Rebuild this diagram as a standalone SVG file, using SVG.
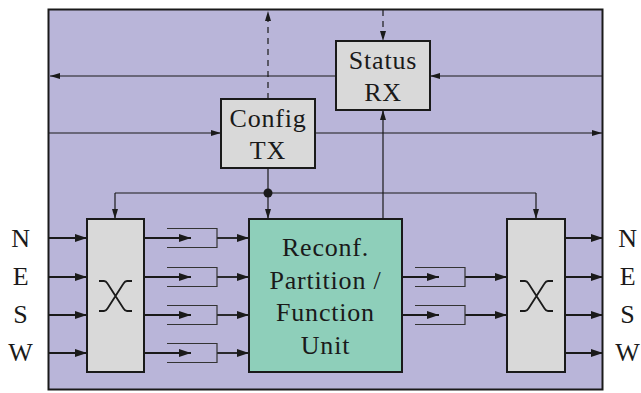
<svg xmlns="http://www.w3.org/2000/svg" width="641" height="393" viewBox="0 0 641 393">
<style>
.box{stroke:#1a1a1a;stroke-width:2}
.gray{fill:#d9d9d9}
.teal{fill:#8ecfba}
.t{font-family:"Liberation Serif","DejaVu Serif",serif;font-size:26px;letter-spacing:0.8px;fill:#1a1a1a;text-anchor:middle}
.thick{stroke:#1a1a1a;stroke-width:1.8;fill:none}
.thin{stroke:#1a1a1a;stroke-width:1.2;fill:none}
.xsym{stroke:#1a1a1a;stroke-width:1.8;fill:none;stroke-linejoin:round}
.buf{stroke:#333;stroke-width:1.2;fill:none}
.dash{stroke-dasharray:6,5}
</style>
<defs>
<marker id="ah" viewBox="0 0 12 8" refX="12" refY="4" markerWidth="12" markerHeight="8" markerUnits="userSpaceOnUse" orient="auto">
<path d="M0,0 L12,4 L0,8 Z" fill="#1a1a1a"/>
</marker>
<marker id="as" viewBox="0 0 10 6" refX="10" refY="3" markerWidth="10" markerHeight="6" markerUnits="userSpaceOnUse" orient="auto">
<path d="M0,0 L10,3 L0,6 Z" fill="#1a1a1a"/>
</marker>
</defs>
<g id="outer">
<rect x="48.5" y="9.5" width="554" height="380" fill="#b9b5d9" class="box"/>
</g>
<g id="connectors">
<line x1="268" y1="99" x2="268" y2="11" class="thin dash" marker-end="url(#as)"/>
<line x1="383" y1="10" x2="383" y2="41" class="thin dash" marker-end="url(#as)"/>
<line x1="336" y1="76" x2="50" y2="76" class="thin" marker-end="url(#as)"/>
<line x1="602" y1="76" x2="430" y2="76" class="thin" marker-end="url(#as)"/>
<line x1="49" y1="133" x2="221" y2="133" class="thin" marker-end="url(#as)"/>
<line x1="315" y1="133" x2="602" y2="133" class="thin" marker-end="url(#as)"/>
<line x1="383" y1="219" x2="383" y2="110" class="thin" marker-end="url(#as)"/>
<line x1="268" y1="168" x2="268" y2="219" class="thin" marker-end="url(#as)"/>
<line x1="115" y1="193" x2="536" y2="193" class="thin"/>
<line x1="115" y1="193" x2="115" y2="219" class="thin" marker-end="url(#as)"/>
<line x1="536" y1="193" x2="536" y2="219" class="thin" marker-end="url(#as)"/>
<circle cx="268" cy="193" r="4.5" fill="#1a1a1a"/>
<line x1="49" y1="238" x2="87" y2="238" class="thick" marker-end="url(#ah)"/>
<line x1="49" y1="277" x2="87" y2="277" class="thick" marker-end="url(#ah)"/>
<line x1="49" y1="315" x2="87" y2="315" class="thick" marker-end="url(#ah)"/>
<line x1="49" y1="353" x2="87" y2="353" class="thick" marker-end="url(#ah)"/>
<line x1="144" y1="238" x2="191" y2="238" class="thick" marker-end="url(#ah)"/>
<line x1="144" y1="277" x2="191" y2="277" class="thick" marker-end="url(#ah)"/>
<line x1="144" y1="315" x2="191" y2="315" class="thick" marker-end="url(#ah)"/>
<line x1="144" y1="353" x2="191" y2="353" class="thick" marker-end="url(#ah)"/>
<line x1="217" y1="238" x2="249" y2="238" class="thick" marker-end="url(#ah)"/>
<line x1="217" y1="277" x2="249" y2="277" class="thick" marker-end="url(#ah)"/>
<line x1="217" y1="315" x2="249" y2="315" class="thick" marker-end="url(#ah)"/>
<line x1="217" y1="353" x2="249" y2="353" class="thick" marker-end="url(#ah)"/>
<line x1="402" y1="277" x2="439" y2="277" class="thick" marker-end="url(#ah)"/>
<line x1="402" y1="315" x2="439" y2="315" class="thick" marker-end="url(#ah)"/>
<line x1="465" y1="277" x2="507" y2="277" class="thick" marker-end="url(#ah)"/>
<line x1="465" y1="315" x2="507" y2="315" class="thick" marker-end="url(#ah)"/>
<line x1="565" y1="238" x2="603" y2="238" class="thick" marker-end="url(#ah)"/>
<line x1="565" y1="277" x2="603" y2="277" class="thick" marker-end="url(#ah)"/>
<line x1="565" y1="315" x2="603" y2="315" class="thick" marker-end="url(#ah)"/>
<line x1="565" y1="353" x2="603" y2="353" class="thick" marker-end="url(#ah)"/>
</g>
<g id="buffers">
<polyline points="167,228.5 217,228.5 217,247.5 167,247.5" class="buf"/>
<polyline points="167,267.5 217,267.5 217,286.5 167,286.5" class="buf"/>
<polyline points="167,305.5 217,305.5 217,324.5 167,324.5" class="buf"/>
<polyline points="167,343.5 217,343.5 217,362.5 167,362.5" class="buf"/>
<polyline points="415,267.5 465,267.5 465,286.5 415,286.5" class="buf"/>
<polyline points="415,305.5 465,305.5 465,324.5 415,324.5" class="buf"/>
</g>
<g id="status-rx">
<rect x="336" y="41" width="94" height="69" class="box gray"/>
<text x="383" y="69" class="t">Status</text>
<text x="383" y="101" class="t">RX</text>
</g>
<g id="config-tx">
<rect x="221" y="99" width="94" height="69" class="box gray"/>
<text x="268" y="127" class="t">Config</text>
<text x="268" y="159" class="t">TX</text>
</g>
<g id="crossbar-left">
<rect x="87" y="219" width="57" height="153" class="box gray"/>
<path d="M99,281 H104 Q106,281 107.5,283.5 L123.5,308.5 Q125,311 127,311 H132 M132,281 H127 Q125,281 123.5,283.5 L107.5,308.5 Q106,311 104,311 H99" class="xsym"/>
</g>
<g id="reconf">
<rect x="249" y="219" width="153" height="153" class="box teal"/>
<text x="325.5" y="256" class="t">Reconf.</text>
<text x="325.5" y="288.5" class="t">Partition /</text>
<text x="325.5" y="321" class="t">Function</text>
<text x="325.5" y="353.5" class="t">Unit</text>
</g>
<g id="crossbar-right">
<rect x="507" y="219" width="58" height="153" class="box gray"/>
<path d="M520,281 H525 Q527,281 528.5,283.5 L544.5,308.5 Q546,311 548,311 H553 M553,281 H548 Q546,281 544.5,283.5 L528.5,308.5 Q527,311 525,311 H520" class="xsym"/>
</g>
<g id="labels-left">
<text x="21" y="247" class="t">N</text>
<text x="21" y="285" class="t">E</text>
<text x="21" y="323" class="t">S</text>
<text x="21" y="361" class="t">W</text>
</g>
<g id="labels-right">
<text x="628" y="247" class="t">N</text>
<text x="628" y="285" class="t">E</text>
<text x="628" y="323" class="t">S</text>
<text x="628" y="361" class="t">W</text>
</g>
</svg>
